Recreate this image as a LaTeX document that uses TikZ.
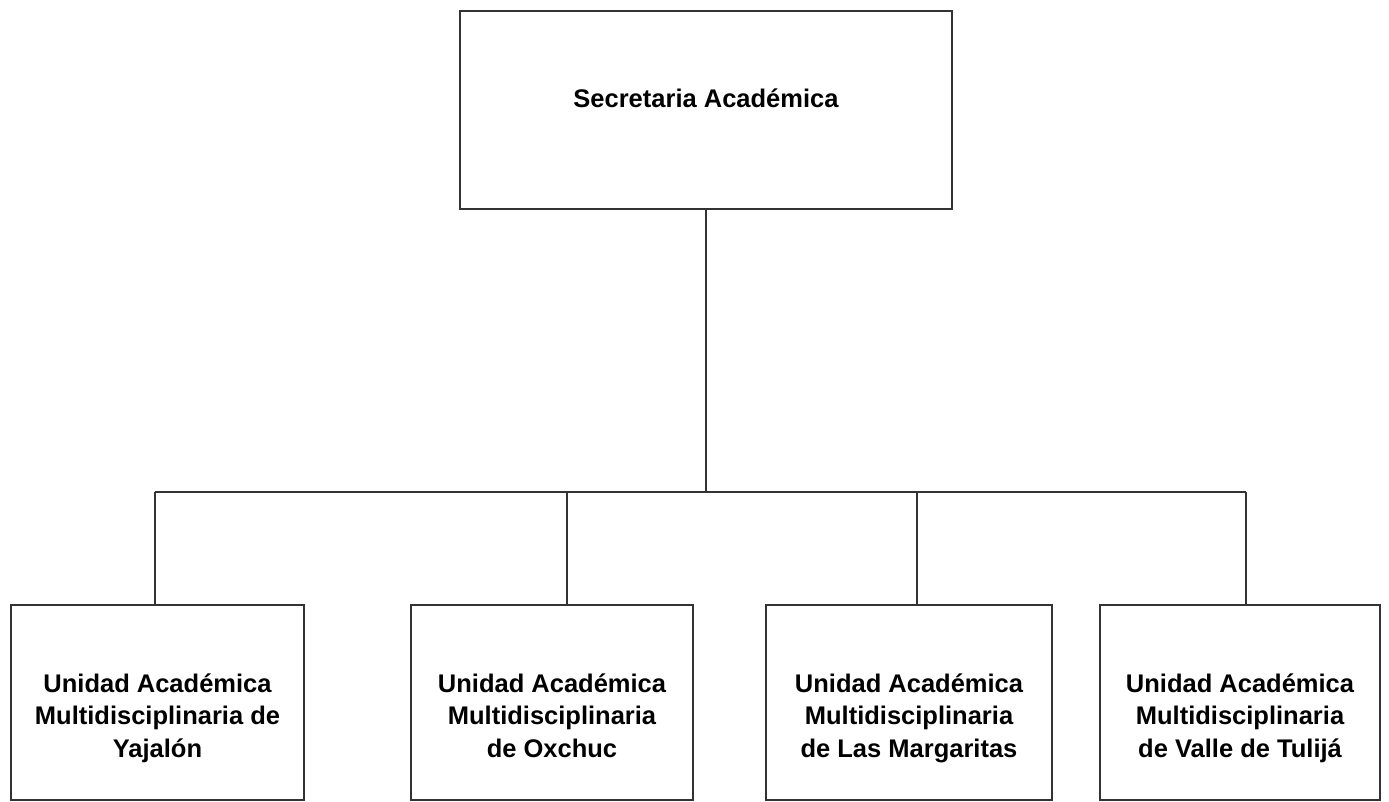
\documentclass[tikz,border=0pt]{standalone}
\usepackage{fontspec}
\setmainfont{Liberation Sans}
\usepackage{tikz}
\usetikzlibrary{calc}
\usetikzlibrary{positioning}

\begin{document}
\begin{tikzpicture}
	[
	x=1pt, y=-1pt,
	every node/.style={font=\fontsize{25.5}{32.5}\selectfont\bfseries},
	line/.style = {draw=black!80, line width=1.1pt},
	unit/.style = {line, rectangle, minimum height=195pt, inner sep=0pt, align=center, text height=135pt, text depth=26pt},
	head/.style = {line, rectangle, minimum width=492pt, minimum height=198pt, inner sep=0pt, text height=18pt, text depth=22pt}
	]
	\useasboundingbox (0,0) rectangle (1389,802);

	\node[head] (sec) at (706,110) {Secretaria Acad\'emica};

	\node[unit, minimum width=293pt] (yaj) at (157.5,702.5) {Unidad Acad\'emica\\Multidisciplinaria de\\Yajal\'on};
	\node[unit, minimum width=282pt] (oxc) at (552,702.5) {Unidad Acad\'emica\\Multidisciplinaria\\de Oxchuc};
	\node[unit, minimum width=286pt] (mar) at (909,702.5) {Unidad Acad\'emica\\Multidisciplinaria\\de Las Margaritas};
	\node[unit, minimum width=280pt] (tul) at (1240,702.5) {Unidad Acad\'emica\\Multidisciplinaria\\de Valle de Tulij\'a};

	\coordinate (@1) at (155,492);
	\coordinate (@2) at (567,492);
	\coordinate (@3) at (917,492);
	\coordinate (@4) at (1246,492);

	\draw[line] (sec.south) -- (sec.south |- @1);
	\draw[line] (@1) -- (@4);
	\draw[line] (@1) -- (@1 |- yaj.north);
	\draw[line] (@2) -- (@2 |- oxc.north);
	\draw[line] (@3) -- (@3 |- mar.north);
	\draw[line] (@4) -- (@4 |- tul.north);

\end{tikzpicture}
\end{document}
